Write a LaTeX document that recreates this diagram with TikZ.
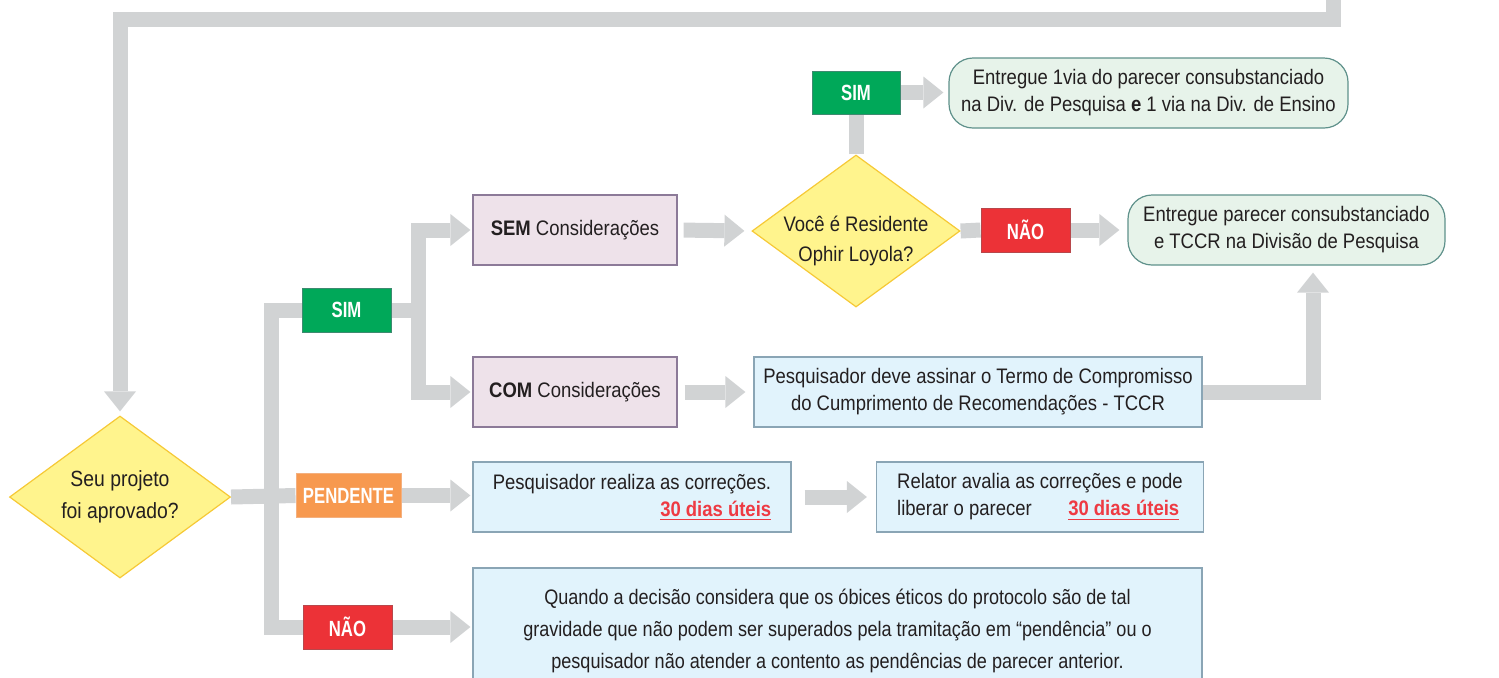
\documentclass[tikz,border=0pt]{standalone}
\usepackage{fontspec}
\setmainfont[FakeStretch=0.88]{Liberation Sans}
\newfontfamily\tagfont[FakeStretch=0.76]{Liberation Sans}
\newfontfamily\longfont[FakeStretch=0.86]{Liberation Sans}
\usetikzlibrary{arrows.meta,shapes.geometric,calc,backgrounds}
\definecolor{cgray}{HTML}{D1D3D4}
\definecolor{tdark}{HTML}{231F20}
\definecolor{yfill}{HTML}{FFF48D}
\definecolor{ydraw}{HTML}{F6C936}
\definecolor{cgreen}{HTML}{00A859}
\definecolor{cgreenb}{HTML}{3E8A70}
\definecolor{cred}{HTML}{EC3237}
\definecolor{credb}{HTML}{B8474B}
\definecolor{corange}{HTML}{F7994F}
\definecolor{corangeb}{HTML}{F4B07F}
\definecolor{mfill}{HTML}{EEE2EA}
\definecolor{mdraw}{HTML}{8C7A98}
\definecolor{bfill}{HTML}{E1F3FC}
\definecolor{bdraw}{HTML}{8AA5B5}
\definecolor{gfill}{HTML}{E7F3EA}
\definecolor{gdraw}{HTML}{5F918B}
\definecolor{prazoc}{HTML}{EE3A43}
\newcommand\prazo{\textcolor{prazoc}{\bfseries\underline{30 dias úteis}}}
\tikzset{
  every node/.append style={text=tdark},
  conn/.style={draw=cgray, line width=7.5pt},
  conna/.style={conn, -{Triangle[length=10pt,width=16pt,line width=0pt]}},
  diam/.style={diamond, draw=ydraw, fill=yfill, line width=0.6pt, inner sep=0pt, aspect=1.36},
  tagbox/.style={draw, line width=0.5pt, inner sep=0pt, text=white,
    font=\tagfont\bfseries\fontsize{11}{13}\selectfont},
  mbox/.style={draw=mdraw, fill=mfill, line width=0.6pt, inner sep=0pt,
    minimum width=102pt, minimum height=35pt, font=\fontsize{10.5}{13.5}\selectfont},
  bbox/.style={draw=bdraw, fill=bfill, line width=0.6pt, inner sep=0pt,
    minimum height=35pt, font=\fontsize{10.5}{13.5}\selectfont},
  gbox/.style={draw=gdraw, fill=gfill, line width=0.6pt, inner sep=0pt, rounded corners=12pt,
    minimum height=35pt, align=center, font=\fontsize{10.5}{13.5}\selectfont},
}
\begin{document}
\begin{tikzpicture}[x=0.5pt,y=-0.5pt]
\useasboundingbox (0,0) rectangle (1499,677);

% decision diamonds
\node[diam, minimum width=110.5pt, minimum height=81pt, align=center,
      font=\fontsize{11}{16}\selectfont] (seu) at (120,497) {Seu projeto\\foi aprovado?};
\node[diam, minimum width=104pt, minimum height=76pt] (voce) at (856,231) {};
\node[align=center, inner sep=0pt, font=\fontsize{10.5}{15}\selectfont] (vocetxt) at (856,241) {Você é Residente\\Ophir Loyola?};

% tags
\node[tagbox, draw=cgreenb, fill=cgreen, minimum width=44.5pt, minimum height=22pt] (sim) at (346.5,310) {SIM};
\node[tagbox, draw=corangeb, fill=corange, minimum width=52.5pt, minimum height=22pt] (pend) at (348.5,495.5) {PENDENTE};
\node[tagbox, draw=credb, fill=cred, minimum width=44.5pt, minimum height=22pt] (naob) at (347.5,627) {NÃO};
\node[tagbox, draw=cgreenb, fill=cgreen, minimum width=44pt, minimum height=21.5pt] (simt) at (856,92.5) {SIM};
\node[tagbox, draw=credb, fill=cred, minimum width=44.5pt, minimum height=22pt] (naom) at (1025.5,230) {NÃO};

% boxes
\node[mbox] (sem) at (575,230) {\textbf{SEM} Considerações};
\node[mbox] (com) at (575,392) {\textbf{COM} Considerações};
\node[gbox, minimum width=199.5pt] (e1) at (1148.5,93)
  {Entregue 1via do parecer consubstanciado\\na Div. de Pesquisa \textbf{e} 1 via na Div. de Ensino};
\node[gbox, minimum width=158.5pt] (ep) at (1286.5,230)
  {Entregue parecer consubstanciado\\e TCCR na Divisão de Pesquisa};
\node[bbox, minimum width=224pt, align=center] (pd) at (978,392)
  {Pesquisador deve assinar o Termo de Compromisso\\do Cumprimento de Recomendações - TCCR};
\node[bbox, minimum width=159pt, align=right] (pr) at (632,497)
  {Pesquisador realiza as correções.\\\prazo};
\node[bbox, minimum width=163.5pt, align=left] (rel) at (1040,497)
  {Relator avalia as correções e pode\\\hbox to 141pt{liberar o parecer\hfill\prazo}};
\node[bbox, minimum width=364.5pt, minimum height=63pt, align=center,
      font=\longfont\fontsize{10.5}{16}\selectfont] (quando) at (837.5,631)
  {Quando a decisão considera que os óbices éticos do protocolo são de tal\\
   gravidade que não podem ser superados pela tramitação em “pendência” ou o\\
   pesquisador não atender a contento as pendências de parecer anterior.};

\coordinate (loopstart) at (1333,-10);
\coordinate (loopcorner) at (120,19.5);
\coordinate (bus) at (271.5,497);
\coordinate (br) at (418,310);

\begin{pgfonlayer}{background}
\draw[conna, shorten >=2pt] (loopstart) |- (loopcorner) -- (seu.north);
\draw[conn] (seu.east) -- (pend.west);
\draw[conn] (sim.west) -| (bus) |- (naob.west);
\draw[conna, shorten >=1pt] (pend.east) -- (pend.east -| pr.west);
\draw[conna, shorten >=1pt] (naob.east) -- (naob.east -| quando.west);
\draw[conna, shorten >=1pt] (sim.east) -- (br) |- (sem.west);
\draw[conna, shorten >=1pt] (br) |- (com.west);
\draw[conna, shorten <=3pt, shorten >=3.5pt] (sem.east) -- (voce.west);
\draw[conna, shorten <=3.5pt, shorten >=4pt] (com.east) -- (pd.west);
\draw[conn] (voce.north) -- (simt.south);
\draw[conna, shorten >=2.5pt] (simt.east) -- (simt.east -| e1.west);
\draw[conn] (voce.east) -- (naom.west);
\draw[conna, shorten >=4pt] (naom.east) -- (naom.east -| ep.west);
\draw[conna, shorten >=3.5pt] (pd.east) -| ([xshift=13.25pt]ep.south);
\draw[conna, shorten <=6.5pt, shorten >=4.5pt] (pr.east) -- (rel.west);
\end{pgfonlayer}
\end{tikzpicture}
\end{document}
